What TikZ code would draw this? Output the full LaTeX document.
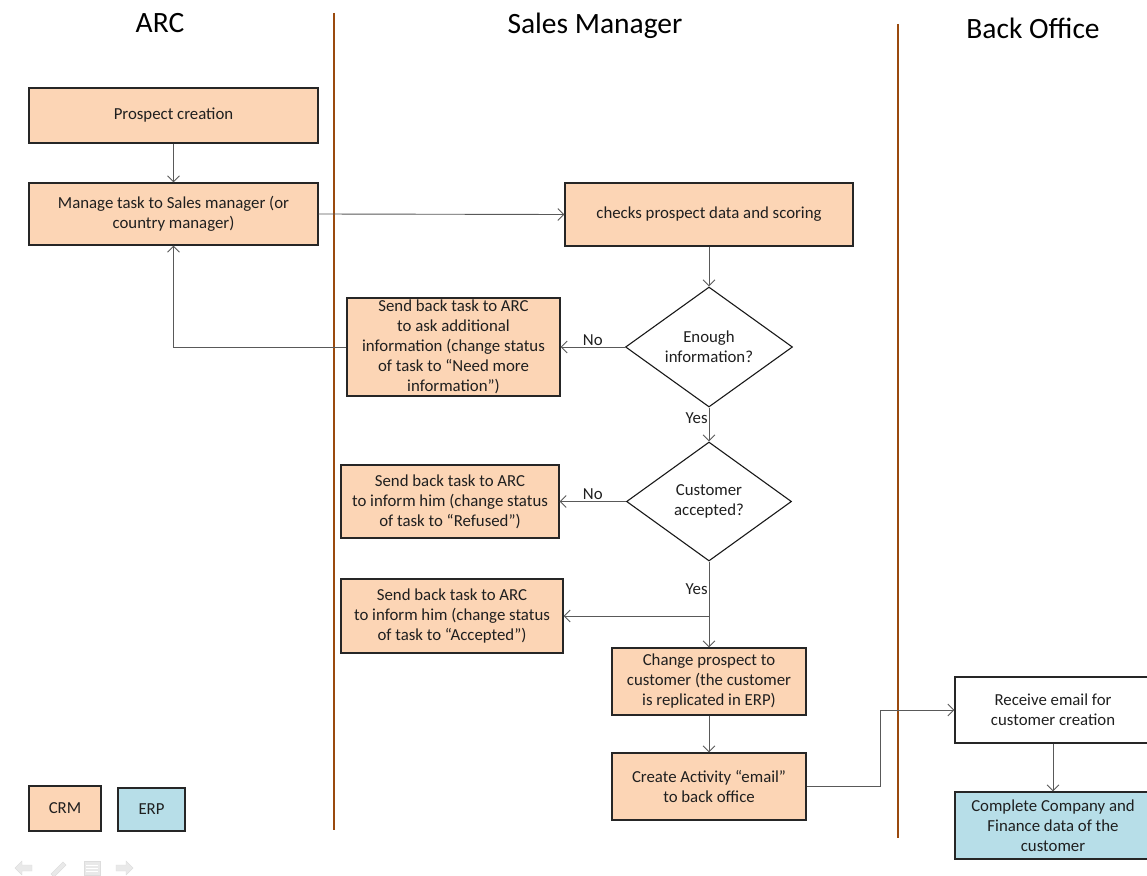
\documentclass[tikz,border=0pt]{standalone}
\usepackage{fontspec}
\setmainfont{Carlito}
\usetikzlibrary{shapes.geometric,arrows.meta}
\definecolor{peach}{HTML}{FCD5B5}
\definecolor{aqua}{HTML}{B7DEE8}
\definecolor{lanebrown}{HTML}{9A4A0E}
\definecolor{wire}{HTML}{595959}
\definecolor{navgray}{HTML}{E9E9E9}
\begin{document}
\begin{tikzpicture}[x=1pt,y=-1pt,
  every node/.style={font=\fontsize{16.8}{20}\selectfont, text=black!88},
  stepbox/.style={draw=black!85, line width=1.1pt, align=center, inner sep=2pt},
  crm/.style={stepbox, fill=peach},
  erp/.style={stepbox, fill=aqua},
  plain/.style={stepbox, fill=white},
  decision/.style={diamond, draw=black!90, line width=1.1pt, fill=white, align=center, inner sep=0pt},
  conn/.style={draw=wire, line width=0.9pt, -{Straight Barb[length=6pt,width=12pt]}},
  lane/.style={draw=lanebrown, line width=2.6pt},
  heading/.style={font=\fontsize{29.5}{34}\selectfont, text=black},
  lbl/.style={font=\fontsize{16.8}{18}\selectfont, inner sep=1pt},
  nav/.style={fill=navgray, draw=navgray!85!black!60, line width=0.4pt}]
\clip (0,0) rectangle (1147,875);
\fill[white] (0,0) rectangle (1147,875);

% swimlane headings and separators
\node[heading] (hArc) at (160,23) {ARC};
\node[heading] (hSales) at (595,26) {Sales Manager};
\node[heading] (hBack) at (1033,28) {Back Office};
\draw[lane] (334,13) -- (334,830);
\draw[lane] (898,24) -- (898,838);

% ARC lane
\node[crm, minimum width=289pt, minimum height=55pt] (prospect) at (173.5,115.5) {Prospect creation};
\node[crm, minimum width=289pt, minimum height=62pt] (manage) at (173.5,214) {Manage task to Sales manager (or\\country manager)};

% Sales manager lane
\node[crm, minimum width=288pt, minimum height=63pt] (checks) at (709,214.5) {checks prospect data and scoring};
\node[decision, minimum width=167pt, minimum height=120pt] (enough) at (709,347) {Enough\\information?};
\node[crm, minimum width=213pt, minimum height=98pt] (needmore) at (453.5,347) {Send back task to ARC\\to ask additional\\information (change status\\of task to “Need more\\information”)};
\node[decision, minimum width=165pt, minimum height=119pt] (accept) at (709,501.5) {Customer\\accepted?};
\node[crm, minimum width=218pt, minimum height=73pt] (refused) at (450,501.5) {Send back task to ARC\\to inform him (change status\\of task to “Refused”)};
\node[crm, minimum width=222pt, minimum height=74pt] (accepted) at (452,616) {Send back task to ARC\\to inform him (change status\\of task to “Accepted”)};
\node[crm, minimum width=194pt, minimum height=67pt] (change) at (709,681.5) {Change prospect to\\customer (the customer\\is replicated in ERP)};
\node[crm, minimum width=194pt, minimum height=67pt] (create) at (709,786.5) {Create Activity “email”\\to back office};

% Back office lane
\node[plain, minimum width=196pt, minimum height=66pt] (receive) at (1053,710) {Receive email for\\customer creation};
\node[erp, minimum width=196pt, minimum height=67pt] (complete) at (1053,825.5) {Complete Company and\\Finance data of the\\customer};

% legend
\node[crm, minimum width=72pt, minimum height=45pt] (legCrm) at (65,808.5) {CRM};
\node[erp, minimum width=67pt, minimum height=43pt] (legErp) at (151.5,809.5) {ERP};

% connectors
\draw[conn] (prospect) -- (manage);
\draw[conn] (manage.east) -- (checks.west);
\draw[conn] (checks) -- (enough);
\draw[conn] (enough.west) -- node[lbl, above] {No} (needmore.east);
\draw[conn] (needmore.west) -| (manage.south);
\draw[conn] (enough.south) -- node[lbl, pos=0.3, left] {Yes} (accept.north);
\draw[conn] (accept.west) -- node[lbl, above] {No} (refused.east);
\draw[conn] (accept.south) -- node[lbl, pos=0.32, left] {Yes} (change.north);
\coordinate (split) at (accept.south |- accepted.east);
\draw[conn] (split) -- (accepted.east);
\draw[conn] (change) -- (create);
\draw[conn] (create.east) -- ++(74,0) |- (receive.west);
\draw[conn] (receive) -- (complete);

% slide navigation controls
\path[nav] (15,868) -- (22,861) -- (22,865) -- (32,865) -- (32,871) -- (22,871) -- (22,875) -- cycle;
\path[nav] (51,874) -- (63,862) -- (66,865) -- (54,877) -- cycle;
\path[nav] (84,861) rectangle (100,875);
\draw[white, line width=1pt] (86,865) -- (98,865) (86,868) -- (98,868) (86,871) -- (98,871);
\path[nav] (133,868) -- (126,861) -- (126,865) -- (116,865) -- (116,871) -- (126,871) -- (126,875) -- cycle;
\end{tikzpicture}
\end{document}
